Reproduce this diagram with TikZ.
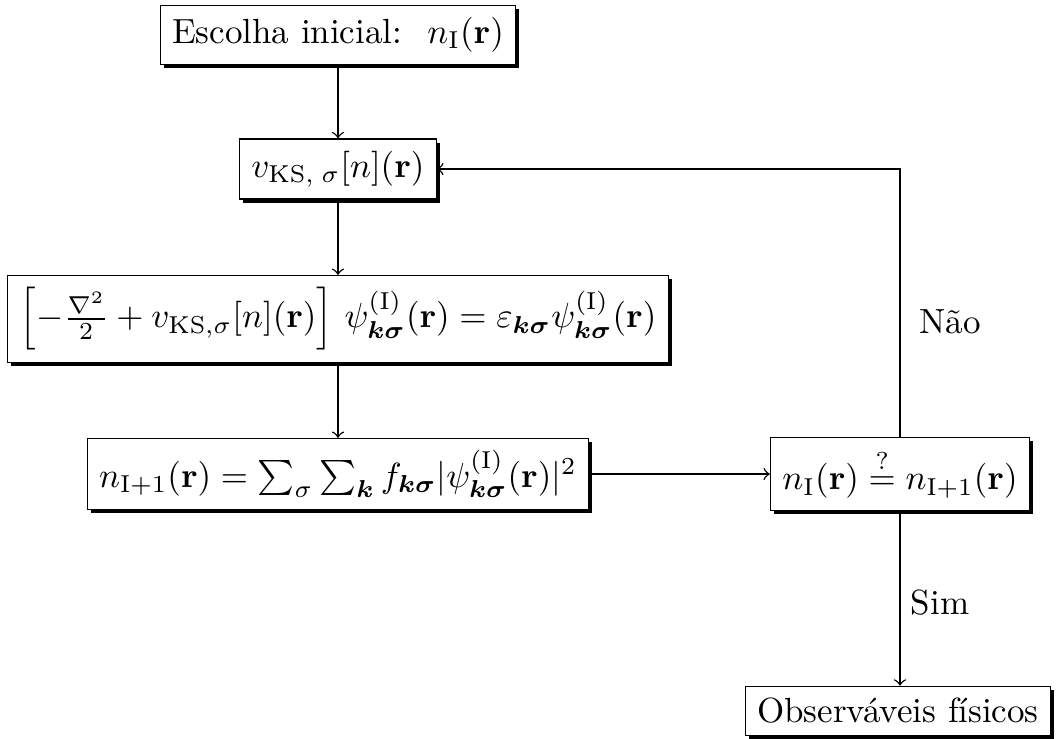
\documentclass[tikz,border=0pt]{standalone}
\usepackage{amsmath,amssymb,bm}
\usetikzlibrary{shadows}
\begin{document}
\begin{tikzpicture}[x=0.286pt,y=-0.286pt,
  box/.style={draw, fill=white, line width=0.4pt, inner sep=3.4pt,
    drop shadow={shadow xshift=1pt, shadow yshift=-1pt, fill=black, opacity=1}},
  conn/.style={draw, line width=0.4pt, ->}]
\useasboundingbox (0,0) rectangle (1059,738);
\node[box] (b1) at (338,35) {Escolha inicial:\; $n_{\mathrm{I}}(\mathbf{r})$};
\node[box] (b2) at (338,169) {$v_{\mathrm{KS},\;\sigma}[n](\mathbf{r})$};
\node[box] (b3) at (338,319) {$\left[-\frac{\nabla^2}{2}+v_{\mathrm{KS},\sigma}[n](\mathbf{r})\right]\,\psi^{(\mathrm{I})}_{\bm{k\sigma}}(\mathbf{r})=\varepsilon_{\bm{k\sigma}}\psi^{(\mathrm{I})}_{\bm{k\sigma}}(\mathbf{r})$};
\node[box] (b4) at (338,474) {$n_{\mathrm{I}+1}(\mathbf{r})=\sum_{\sigma}\sum_{\bm{k}} f_{\bm{k\sigma}}|\psi^{(\mathrm{I})}_{\bm{k\sigma}}(\mathbf{r})|^2$};
\node[box] (b5) at (900,474) {$n_{\mathrm{I}}(\mathbf{r})\stackrel{?}{=}n_{\mathrm{I}+1}(\mathbf{r})$};
\node[box] (b6) at (898,711) {Observáveis físicos};
\draw[conn] (b1) -- (b2);
\draw[conn] (b2) -- (b3);
\draw[conn] (b3) -- (b4);
\draw[conn] (b4) -- (b5);
\draw[conn] (b5.north) |- (b2.east);
\draw[conn] (b5.south) -- (b5.south |- b6.north);
\node (sim) at (940,603) {Sim};
\node (nao) at (950,322) {Não};
\end{tikzpicture}
\end{document}
